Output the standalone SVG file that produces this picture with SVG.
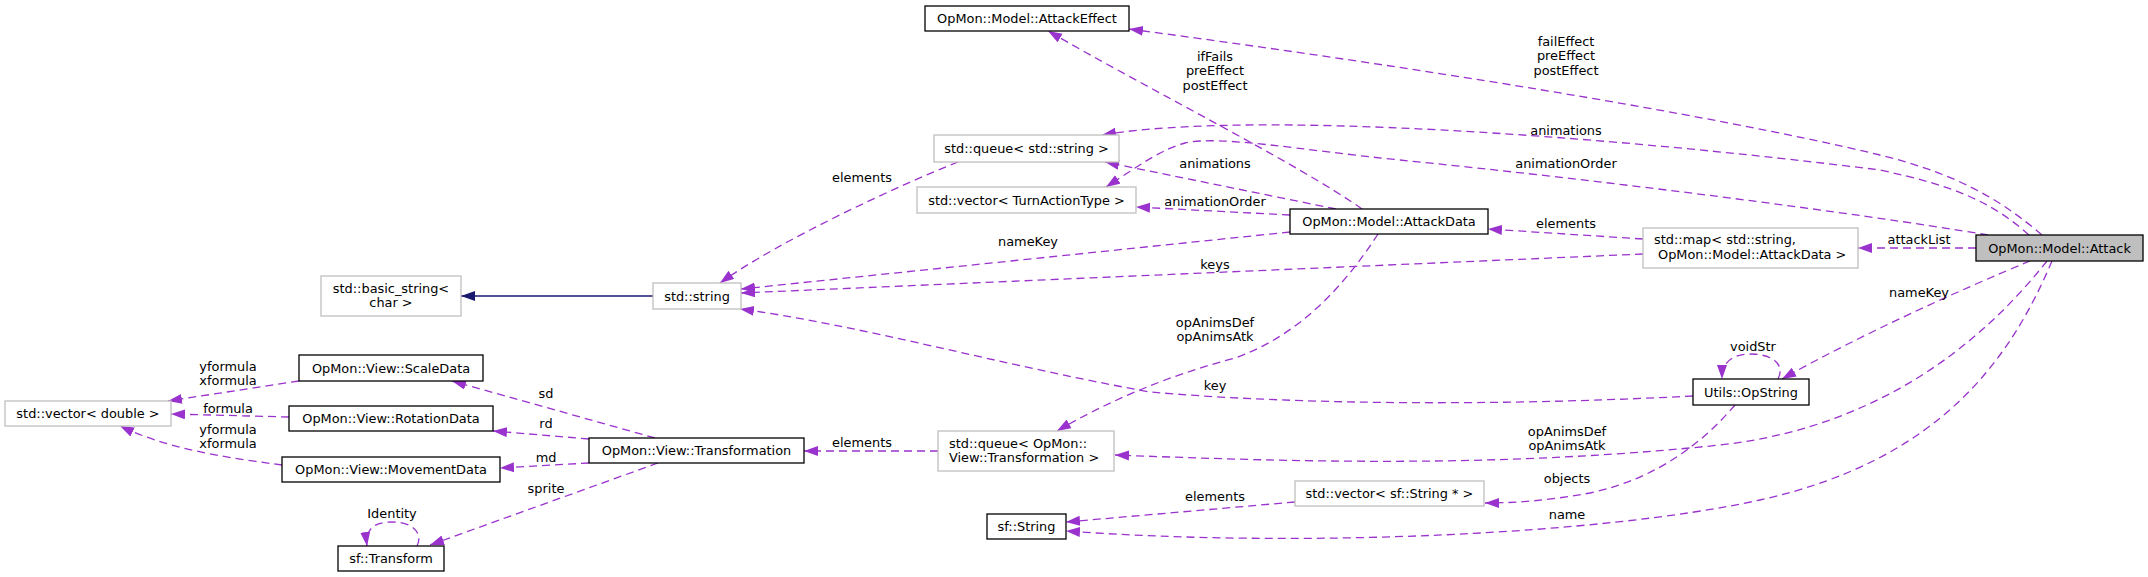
<svg xmlns="http://www.w3.org/2000/svg" width="2148" height="577" viewBox="0 0 2148 577">
<style>
text{font-family:"DejaVu Sans","Liberation Sans",sans-serif;font-size:12.9px;fill:#000}
.c{text-anchor:middle}
.ext rect{fill:#fff;stroke:#bfbfbf;stroke-width:1.3}
.doc rect{fill:#fff;stroke:#000;stroke-width:1.3}
.cur rect{fill:#bfbfbf;stroke:#000;stroke-width:1.3}
.e{fill:none;stroke:#9a32cd;stroke-width:1.3;stroke-dasharray:8,5;marker-end:url(#ap)}
.i{fill:none;stroke:#191970;stroke-width:1.3;marker-end:url(#an)}
</style>
<defs>
<marker id="ap" markerUnits="userSpaceOnUse" markerWidth="15" markerHeight="11" refX="14" refY="5" orient="auto"><path d="M0,0 L14,5 L0,10 z" fill="#9a32cd"/></marker>
<marker id="an" markerUnits="userSpaceOnUse" markerWidth="15" markerHeight="11" refX="14" refY="5" orient="auto"><path d="M0,0 L14,5 L0,10 z" fill="#191970"/></marker>
</defs>
<rect width="2148" height="577" fill="#fff"/>
<g id="connectors">
<path class="i" d="M653,296 L461,296"/>
<path class="e" d="M2042,235 C1990,190 1940,170 1880,155 C1700,112 1400,65 1129,29"/>
<path class="e" d="M1362,209 C1300,165 1150,90 1048,31"/>
<path class="e" d="M2029,235 C1990,200 1950,185 1880,170 C1600,135 1250,110 1102,135"/>
<path class="e" d="M1988,235 C1850,212 1600,180 1400,160 C1300,150 1220,135 1185,143 C1160,150 1140,165 1106,187"/>
<path class="e" d="M1336,209 L1105,162"/>
<path class="e" d="M1290,215 L1136,207"/>
<path class="e" d="M1290,232 L741,289"/>
<path class="e" d="M1643,239 L1488,229"/>
<path class="e" d="M1643,254 L741,293"/>
<path class="e" d="M1976,248 L1858,248"/>
<path class="e" d="M958,162 C900,185 780,240 720,283"/>
<path class="e" d="M1693,396 C1500,406 1300,405 1150,392 C1000,365 860,325 740,309"/>
<path class="e" d="M1378,234 C1345,285 1300,335 1235,358 C1170,375 1110,400 1057,431"/>
<path class="e" d="M2047,261 C2000,320 1900,425 1720,445 C1500,468 1300,462 1115,455"/>
<path class="e" d="M938,451 L804,451"/>
<path class="e" d="M1735,405 C1705,440 1660,478 1590,493 C1550,500 1520,503 1485,503"/>
<path class="e" d="M2052,261 C2010,360 1940,460 1760,500 C1600,535 1300,548 1066,531"/>
<path class="e" d="M1295,502 L1066,522"/>
<path class="e" d="M2030,261 C1960,290 1860,335 1782,379"/>
<path class="e" d="M1778,379 C1784,368 1778,355 1752,354 C1732,354 1722,362 1722,379"/>
<path class="e" d="M655,438 L452,381"/>
<path class="e" d="M589,439 L493,431"/>
<path class="e" d="M589,463 L500,468"/>
<path class="e" d="M658,463 L430,545"/>
<path class="e" d="M299,381 L168,401"/>
<path class="e" d="M289,417 L171,414"/>
<path class="e" d="M282,465 C230,458 170,450 120,426"/>
<path class="e" d="M417,546 C423,535 415,522 392,522 C373,522 365,530 367,546"/>
<text class="c" x="1566" y="45.5">failEffect</text>
<text class="c" x="1566" y="60">preEffect</text>
<text class="c" x="1566" y="74.5">postEffect</text>
<text class="c" x="1215" y="60.5">ifFails</text>
<text class="c" x="1215" y="75">preEffect</text>
<text class="c" x="1215" y="89.5">postEffect</text>
<text class="c" x="1566" y="134.5">animations</text>
<text class="c" x="1566" y="167.5">animationOrder</text>
<text class="c" x="1215" y="167.5">animations</text>
<text class="c" x="862" y="181.5">elements</text>
<text class="c" x="1215" y="205.5">animationOrder</text>
<text class="c" x="1566" y="227.5">elements</text>
<text class="c" x="1919" y="243.5">attackList</text>
<text class="c" x="1028" y="245.5">nameKey</text>
<text class="c" x="1215" y="268.5">keys</text>
<text class="c" x="1919" y="296.5">nameKey</text>
<text class="c" x="1215" y="326.5">opAnimsDef</text>
<text class="c" x="1215" y="341">opAnimsAtk</text>
<text class="c" x="1753" y="350.5">voidStr</text>
<text class="c" x="228" y="370.5">yformula</text>
<text class="c" x="228" y="384.5">xformula</text>
<text class="c" x="1215" y="389.5">key</text>
<text class="c" x="546" y="397.5">sd</text>
<text class="c" x="228" y="412.5">formula</text>
<text class="c" x="546" y="427.5">rd</text>
<text class="c" x="228" y="433.5">yformula</text>
<text class="c" x="228" y="447.5">xformula</text>
<text class="c" x="1567" y="435.5">opAnimsDef</text>
<text class="c" x="1567" y="450">opAnimsAtk</text>
<text class="c" x="862" y="446.5">elements</text>
<text class="c" x="546" y="461.5">md</text>
<text class="c" x="1567" y="482.5">objects</text>
<text class="c" x="546" y="492.5">sprite</text>
<text class="c" x="1215" y="500.5">elements</text>
<text class="c" x="392" y="517.5">Identity</text>
<text class="c" x="1567" y="518.5">name</text>
</g>
<g id="n_attackeffect" class="doc"><rect x="925" y="6" width="204" height="25"/><text class="c" x="1027" y="23">OpMon::Model::AttackEffect</text></g>
<g id="n_queue_string" class="ext"><rect x="934" y="135" width="185" height="27"/><text class="c" x="1026.5" y="153">std::queue&lt; std::string &gt;</text></g>
<g id="n_vector_tat" class="ext"><rect x="917" y="187" width="219" height="26"/><text class="c" x="1026.5" y="204.5">std::vector&lt; TurnActionType &gt;</text></g>
<g id="n_attackdata" class="doc"><rect x="1290" y="209" width="198" height="25"/><text class="c" x="1389" y="226">OpMon::Model::AttackData</text></g>
<g id="n_map" class="ext"><rect x="1643" y="228" width="215" height="40"/><text x="1654" y="244">std::map&lt; std::string,</text><text x="1658" y="259">OpMon::Model::AttackData &gt;</text></g>
<g id="n_attack" class="cur"><rect x="1976" y="235" width="167" height="26"/><text class="c" x="2059.5" y="252.5">OpMon::Model::Attack</text></g>
<g id="n_basic_string" class="ext"><rect x="321" y="276" width="140" height="40"/><text class="c" x="391" y="292.5">std::basic_string&lt;</text><text class="c" x="391" y="307">char &gt;</text></g>
<g id="n_string" class="ext"><rect x="653" y="283" width="88" height="26"/><text class="c" x="697" y="300.5">std::string</text></g>
<g id="n_scaledata" class="doc"><rect x="299" y="355" width="184" height="26"/><text class="c" x="391" y="372.5">OpMon::View::ScaleData</text></g>
<g id="n_vector_double" class="ext"><rect x="5" y="401" width="166" height="25"/><text class="c" x="88" y="418">std::vector&lt; double &gt;</text></g>
<g id="n_rotationdata" class="doc"><rect x="289" y="406" width="204" height="25"/><text class="c" x="391" y="423">OpMon::View::RotationData</text></g>
<g id="n_movementdata" class="doc"><rect x="282" y="457" width="218" height="25"/><text class="c" x="391" y="474">OpMon::View::MovementData</text></g>
<g id="n_transformation" class="doc"><rect x="589" y="438" width="215" height="25"/><text class="c" x="696.5" y="455">OpMon::View::Transformation</text></g>
<g id="n_queue_transf" class="ext"><rect x="938" y="431" width="176" height="40"/><text x="949" y="447.5">std::queue&lt; OpMon::</text><text x="949" y="462">View::Transformation &gt;</text></g>
<g id="n_opstring" class="doc"><rect x="1693" y="379" width="116" height="26"/><text class="c" x="1751" y="396.5">Utils::OpString</text></g>
<g id="n_vector_sfstring" class="ext"><rect x="1295" y="481" width="189" height="25"/><text class="c" x="1389.5" y="498">std::vector&lt; sf::String * &gt;</text></g>
<g id="n_sfstring" class="doc"><rect x="987" y="514" width="79" height="25"/><text class="c" x="1026.5" y="531">sf::String</text></g>
<g id="n_sftransform" class="doc"><rect x="338" y="546" width="106" height="25"/><text class="c" x="391" y="563">sf::Transform</text></g>
</svg>
